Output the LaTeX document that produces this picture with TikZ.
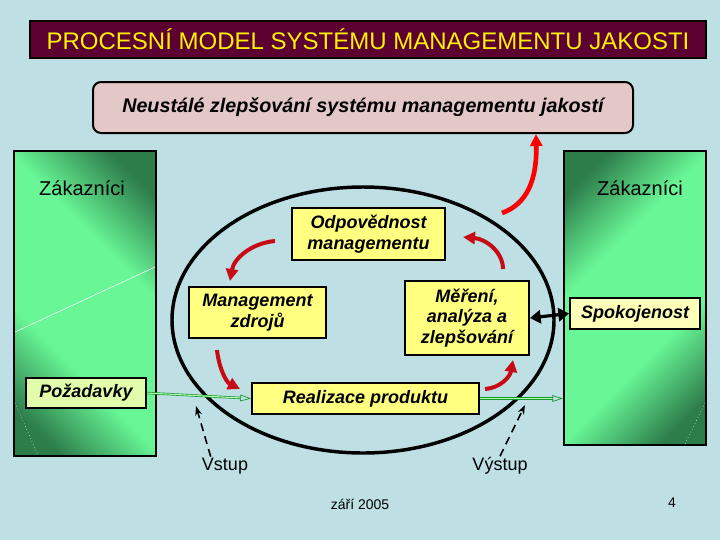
\documentclass[tikz,border=0pt]{standalone}
\usepackage{fontspec}
\setmainfont{Liberation Sans}
\usetikzlibrary{arrows.meta}

\definecolor{pozadi}{RGB}{190,224,228}
\definecolor{titulek}{RGB}{92,0,50}
\definecolor{ruzova}{RGB}{228,200,200}
\definecolor{zluta}{RGB}{255,255,128}
\definecolor{zlutazel}{RGB}{225,252,170}
\definecolor{zlutasv}{RGB}{255,255,185}
\definecolor{zelsv}{RGB}{104,246,150}
\definecolor{zeltm}{RGB}{45,125,75}
\definecolor{tmcervena}{RGB}{200,10,20}
\definecolor{zelcara}{RGB}{20,150,40}

\pgfdeclareverticalshading{zakaznikstin}{100bp}{color(0bp)=(zeltm); color(22bp)=(zeltm); color(38bp)=(zelsv);
  color(62bp)=(zelsv); color(78bp)=(zeltm); color(100bp)=(zeltm)}

\tikzset{
  krabice/.style={draw=black, line width=1.5pt, fill=zluta, align=center, inner sep=0pt,
    font=\fontsize{13.5}{15.5}\selectfont\bfseries\itshape},
  zakaznik/.style={draw=black, line width=1.5pt, shading=zakaznikstin, inner sep=0pt},
  cyklus/.style={draw=tmcervena, line width=3pt, -{Triangle[length=9pt,width=9pt]}},
  vstupcara/.style={draw=zelcara, double=green!30!white, double distance=0.8pt, line width=0.5pt,
    -{Triangle[open,length=8pt,width=5pt]}},
  carkovana/.style={draw=black, line width=1.2pt, dashed, dash pattern=on 6pt off 4pt, -{Stealth[length=7pt,width=5pt]}},
  popis/.style={inner sep=0.75pt, font=\fontsize{13.5}{16}\selectfont}
}

\begin{document}
\begin{tikzpicture}[x=0.75pt,y=0.75pt,yscale=-1,xscale=1]
\fill[pozadi] (0,0) rectangle (720,540);
\useasboundingbox (0,0) rectangle (720,540);

%Title
\node (titul) [draw=black, line width=1pt, fill=titulek, minimum width=507pt, minimum height=27.75pt, text=yellow,
  font=\fontsize{18}{20}\selectfont] at (368,39.5) {PROCESNÍ MODEL SYSTÉMU MANAGEMENTU JAKOSTI};

%Shape: Rounded box
\node (zlepsovani) [draw=black, line width=1.5pt, fill=ruzova, rounded corners=6pt, minimum width=405pt, minimum height=38.25pt,
  font=\fontsize{14.8}{17}\selectfont\bfseries\itshape] at (363,107.5) {Neustálé zlepšování systému managementu jakostí};

%Shape: Customers
\node (zakL) [zakaznik, shading angle=-45, minimum width=106.5pt, minimum height=228.75pt] at (85,303.5) {};
\node (zakP) [zakaznik, shading angle=45, minimum width=106.5pt, minimum height=220.5pt] at (635,298) {};
\draw[white, line width=0.4pt] (15,332) -- (155,267);
\draw[white, line width=0.4pt, dotted] (15,403) -- (38,455);
\draw[white, line width=0.4pt, dotted] (705,403) -- (685,444);
% Text Node
\node (zakLtext) [popis, font=\fontsize{15}{18}\selectfont] at (82,188) {Zákazníci};
% Text Node
\node (zakPtext) [popis, font=\fontsize{15}{18}\selectfont] at (640,188) {Zákazníci};

%Shape: Ellipse
\draw[line width=2.6pt] (363,320) ellipse [x radius=191, y radius=133];

%Boxes
\node (odpovednost) [krabice, minimum width=114.75pt, minimum height=39pt] at (368.5,234) {Odpovědnost\\managementu};
\node (zdroje) [krabice, minimum width=102.75pt, minimum height=38.25pt] at (257.5,312.5) {Management\\zdrojů};
\node (mereni) [krabice, minimum width=93pt, minimum height=55.5pt] at (467,318) {Měření,\\analýza a\\zlepšování};
\node (realizace) [krabice, minimum width=170.25pt, minimum height=23.25pt] at (365.5,398.5) {Realizace produktu};
\node (pozadavky) [krabice, fill=zlutazel, minimum width=90pt, minimum height=22.5pt] at (86,393) {Požadavky};
\node (spokojenost) [krabice, fill=zlutasv, minimum width=97.5pt, minimum height=23.25pt] at (635,313.5) {Spokojenost};

%Curve Lines
\coordinate (c1a) at (275,241); \coordinate (c1b) at (230,281);
\coordinate (c2a) at (217,350); \coordinate (c2b) at (240,389);
\coordinate (c3a) at (485,389); \coordinate (c3b) at (513,360);
\coordinate (c4a) at (503,269); \coordinate (c4b) at (463,237);
\coordinate (c5a) at (502,213); \coordinate (c5b) at (536,134);
\draw[cyklus] (c1a) .. controls (252,243) and (234,258) .. (c1b);
\draw[cyklus] (c2a) .. controls (219,368) and (226,382) .. (c2b);
\draw[cyklus] (c3a) .. controls (500,388) and (510,377) .. (c3b);
\draw[cyklus] (c4a) .. controls (503,252) and (486,239) .. (c4b);
\draw[cyklus, draw=red, line width=3.5pt] (c5a) .. controls (527,204) and (537,180) .. (c5b);

%Straight Lines
\draw[black, line width=2.4pt, {Triangle[length=8pt,width=10pt]}-{Triangle[length=8pt,width=10pt]}] (mereni.east) -- (spokojenost.west);
\draw[vstupcara] (pozadavky.east) -- (realizace.west);
\draw[vstupcara] (realizace.east) -- (zakP.west |- realizace.east);

% Text Node
\node (vstup) [popis] at (225,466) {Vstup};
% Text Node
\node (vystup) [popis] at (500,466) {Výstup};
\coordinate (vstupcil) at (196,406);
\coordinate (vystupcil) at (525,405);
\draw[carkovana] (vstup.north west) ++(10,0) -- (vstupcil);
\draw[carkovana] (vystup.north) -- (vystupcil);

% Text Node
\node (datum) [inner sep=0.75pt, font=\fontsize{10.5}{12}\selectfont] at (360,504) {září 2005};
% Text Node
\node (strana) [inner sep=0.75pt, font=\fontsize{10.5}{12}\selectfont] at (672,503) {4};

\end{tikzpicture}
\end{document}
